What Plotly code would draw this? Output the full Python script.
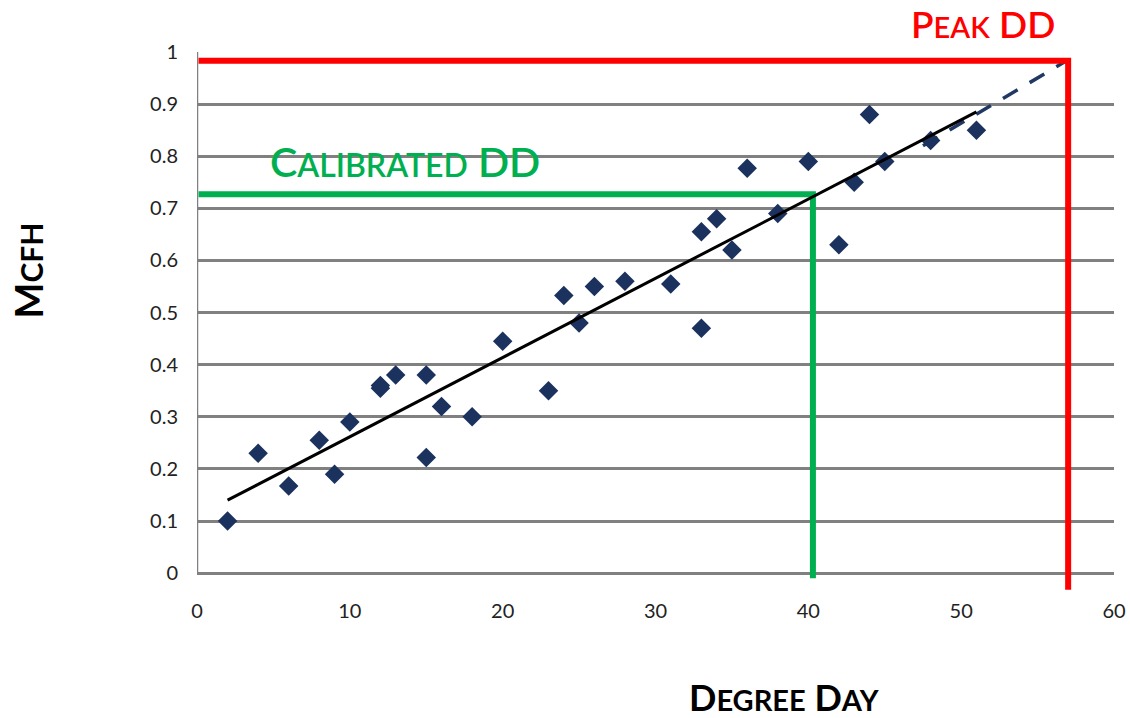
import plotly.graph_objects as go

# Observed data points (degree day, Mcfh)
degree_day = [2, 4, 6, 8, 9, 10, 12, 12, 13, 15, 15, 16, 18, 20, 23, 24, 25, 26, 28,
              31, 33, 33, 34, 35, 36, 38, 40, 42, 43, 44, 45, 48, 51]
mcfh = [0.10, 0.23, 0.167, 0.255, 0.19, 0.29, 0.355, 0.36, 0.38, 0.38, 0.222, 0.32, 0.30,
        0.445, 0.35, 0.533, 0.48, 0.55, 0.56, 0.555, 0.655, 0.47, 0.68, 0.62, 0.777,
        0.69, 0.79, 0.63, 0.75, 0.88, 0.79, 0.83, 0.85]

# Linear trend line (solid) and its forecast extension (dashed)
trend_x = [2, 51]
trend_y = [0.14, 0.885]
forecast_x = [47.5, 57]
forecast_y = [0.82, 0.985]

# Reference lines
calib_x = [0.1, 40.3, 40.3]
calib_y = [0.727, 0.727, -0.01]
peak_x = [0.1, 57.0, 57.0]
peak_y = [0.983, 0.983, -0.032]

x_ticks = [0, 10, 20, 30, 40, 50, 60]
y_ticks = [0, 0.1, 0.2, 0.3, 0.4, 0.5, 0.6, 0.7, 0.8, 0.9, 1.0]
y_ticktext = ["0", "0.1", "0.2", "0.3", "0.4", "0.5", "0.6", "0.7", "0.8", "0.9", "1"]

YMIN, YMAX = -0.04, 1.0
FONT = "Lato, 'Open Sans', sans-serif"

fig = go.Figure()

fig.add_trace(go.Scatter(x=forecast_x, y=forecast_y, mode="lines",
                         line=dict(color="#1F3864", width=3.5, dash="17px,14px"),
                         showlegend=False, hoverinfo="skip"))
fig.add_trace(go.Scatter(x=calib_x, y=calib_y, mode="lines",
                         line=dict(color="#00B050", width=6),
                         showlegend=False, hoverinfo="skip"))
fig.add_trace(go.Scatter(x=peak_x, y=peak_y, mode="lines",
                         line=dict(color="#FF0000", width=6),
                         showlegend=False, hoverinfo="skip"))
fig.add_trace(go.Scatter(x=degree_day, y=mcfh, mode="markers",
                         marker=dict(symbol="diamond", size=15, color="#1B315E",
                                     line=dict(width=0)),
                         showlegend=False))
fig.add_trace(go.Scatter(x=trend_x, y=trend_y, mode="lines",
                         line=dict(color="black", width=3),
                         showlegend=False, hoverinfo="skip"))

# left axis line (0..1)
fig.add_shape(type="line", xref="x", yref="y", x0=0, x1=0, y0=0, y1=1,
              line=dict(color="#808080", width=2.5), layer="below")


def py(v):
    return (v - YMIN) / (YMAX - YMIN)


def smallcaps(words, small):
    parts = []
    for w in words:
        if len(w) > 1 and not w.isupper():
            parts.append(w[0] + "<span style='font-size:%dpx'>%s</span>" % (small, w[1:].upper()))
        else:
            parts.append(w)
    return " ".join(parts)


fig.add_annotation(xref="x", yref="paper", x=13.6, y=py(0.789),
                   text=smallcaps(["Calibrated", "DD"], 32),
                   showarrow=False, font=dict(family=FONT, size=41, color="#00B050", weight=600),
                   xanchor="center", yanchor="middle")
fig.add_annotation(xref="x", yref="paper", x=51.4, y=py(1.054),
                   text=smallcaps(["Peak", "DD"], 29),
                   showarrow=False, font=dict(family=FONT, size=37, color="#FF0000", weight=600),
                   xanchor="center", yanchor="middle")
fig.add_annotation(xref="paper", yref="paper", x=(783 - 197) / 915, y=py(-0.238),
                   text="<b>" + smallcaps(["Degree", "Day"], 29) + "</b>",
                   showarrow=False, font=dict(family=FONT, size=36, color="black"),
                   xanchor="center", yanchor="middle")
fig.add_annotation(xref="paper", yref="paper", x=(28 - 197) / 915, y=py(0.58),
                   text="<b>M<span style='font-size:30px'>CFH</span></b>",
                   textangle=-90,
                   showarrow=False, font=dict(family=FONT, size=38, color="black"),
                   xanchor="center", yanchor="middle")

fig.update_xaxes(range=[0, 60], tickvals=x_ticks, showgrid=False, zeroline=False,
                 showline=False, ticks="", ticklabelstandoff=3, automargin=False,
                 tickfont=dict(family=FONT, size=20, color="#222222"))
fig.update_yaxes(range=[YMIN, YMAX], tickvals=y_ticks, ticktext=y_ticktext,
                 showgrid=True, gridcolor="#808080", gridwidth=2.5, zeroline=False,
                 showline=False, ticks="", ticklabelstandoff=18, automargin=False,
                 tickfont=dict(family=FONT, size=20, color="#222222"))

fig.update_layout(width=1130, height=718, plot_bgcolor="white", paper_bgcolor="white",
                  margin=dict(l=197, r=16, t=52, b=124, autoexpand=False), showlegend=False)

fig.write_html("out.html", config={"displayModeBar": False},
               post_script="document.body.style.margin='0';document.body.style.overflow='hidden';")
